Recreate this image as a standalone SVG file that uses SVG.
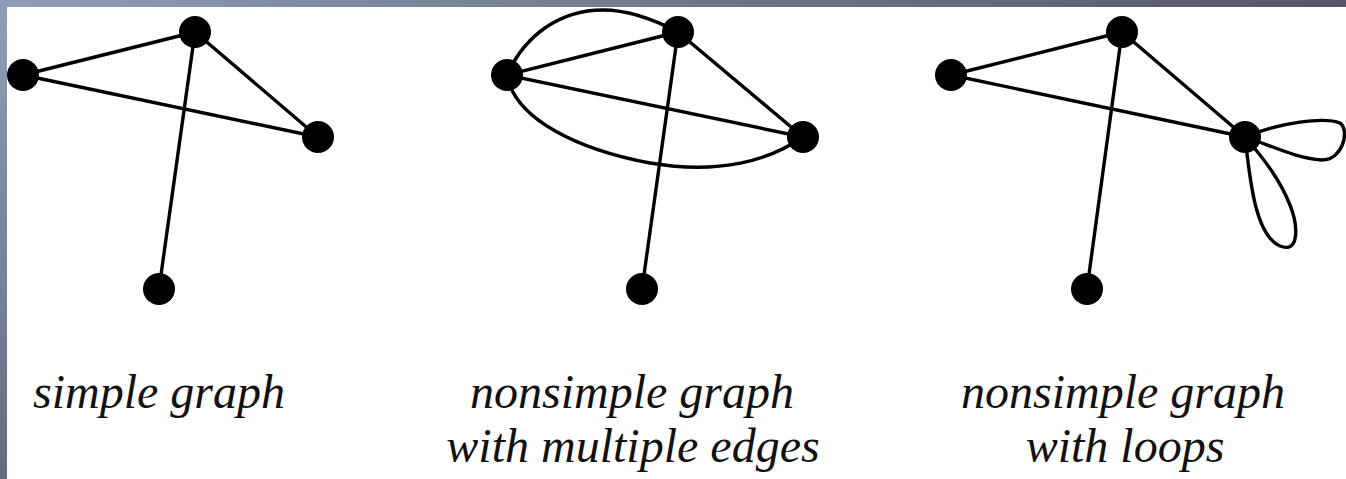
<svg xmlns="http://www.w3.org/2000/svg" width="1346" height="479" viewBox="0 0 1346 479">
  <defs>
    <linearGradient id="frameTop" x1="0" y1="0" x2="1" y2="0">
      <stop offset="0" stop-color="#8f9db7"/>
      <stop offset="0.5" stop-color="#6f798e"/>
      <stop offset="1" stop-color="#535866"/>
    </linearGradient>
    <linearGradient id="frameLeft" x1="0" y1="0" x2="0" y2="1">
      <stop offset="0" stop-color="#8f9db7"/>
      <stop offset="1" stop-color="#646c80"/>
    </linearGradient>
    <style>
      .edge { fill: none; stroke: #000; stroke-width: 3.4; stroke-linecap: round; }
      .node { fill: #000; }
      .label { font-family: "Liberation Serif", "DejaVu Serif", serif; font-style: italic; font-size: 48px; fill: #111; text-anchor: middle; }
    </style>
  </defs>

  <rect x="0" y="0" width="1346" height="479" fill="url(#frameLeft)"/>
  <rect x="0" y="0" width="1346" height="7" fill="url(#frameTop)"/>
  <rect x="7" y="7" width="1339" height="472" fill="#ffffff"/>

  <g id="connectors">
    <!-- simple graph -->
    <line class="edge" x1="23" y1="75" x2="195" y2="32"/>
    <line class="edge" x1="23" y1="75" x2="318" y2="137"/>
    <line class="edge" x1="195" y1="32" x2="318" y2="137"/>
    <line class="edge" x1="195" y1="32" x2="159" y2="289"/>
    <!-- multiple edges -->
    <line class="edge" x1="507" y1="75" x2="678" y2="32"/>
    <line class="edge" x1="507" y1="75" x2="803" y2="137"/>
    <line class="edge" x1="678" y1="32" x2="803" y2="137"/>
    <line class="edge" x1="678" y1="32" x2="642" y2="289"/>
    <path class="edge" d="M507,75 C525,35 560,10 603,10 C630,10 655,20 678,32"/>
    <path class="edge" d="M507,75 C515,120 580,150 650,163 C720,175 770,160 803,137"/>
    <!-- loops -->
    <line class="edge" x1="951" y1="75" x2="1122" y2="32"/>
    <line class="edge" x1="951" y1="75" x2="1245" y2="137"/>
    <line class="edge" x1="1122" y1="32" x2="1245" y2="137"/>
    <line class="edge" x1="1122" y1="32" x2="1087" y2="289"/>
    <path class="edge" d="M1245,137 C1280,122 1325,117 1340,123 C1350,130 1343,160 1322,160 C1295,158 1270,145 1245,137"/>
    <path class="edge" d="M1245,137 C1250,180 1255,235 1280,246 C1300,254 1298,225 1290,205 C1280,180 1265,160 1245,137"/>
  </g>

  <g id="simple-a"><circle class="node" cx="23" cy="75" r="16"/></g>
  <g id="simple-b"><circle class="node" cx="195" cy="32" r="16"/></g>
  <g id="simple-c"><circle class="node" cx="318" cy="137" r="16"/></g>
  <g id="simple-d"><circle class="node" cx="159" cy="289" r="16"/></g>

  <g id="multi-a"><circle class="node" cx="507" cy="75" r="16"/></g>
  <g id="multi-b"><circle class="node" cx="678" cy="32" r="16"/></g>
  <g id="multi-c"><circle class="node" cx="803" cy="137" r="16"/></g>
  <g id="multi-d"><circle class="node" cx="642" cy="289" r="16"/></g>

  <g id="loops-a"><circle class="node" cx="951" cy="75" r="16"/></g>
  <g id="loops-b"><circle class="node" cx="1122" cy="32" r="16"/></g>
  <g id="loops-c"><circle class="node" cx="1245" cy="137" r="16"/></g>
  <g id="loops-d"><circle class="node" cx="1087" cy="289" r="16"/></g>

  <g id="labels">
    <text class="label" x="159" y="408">simple graph</text>
    <text class="label" x="632" y="408">nonsimple graph</text>
    <text class="label" x="633" y="462">with multiple edges</text>
    <text class="label" x="1123" y="408">nonsimple graph</text>
    <text class="label" x="1125" y="462">with loops</text>
  </g>
</svg>
